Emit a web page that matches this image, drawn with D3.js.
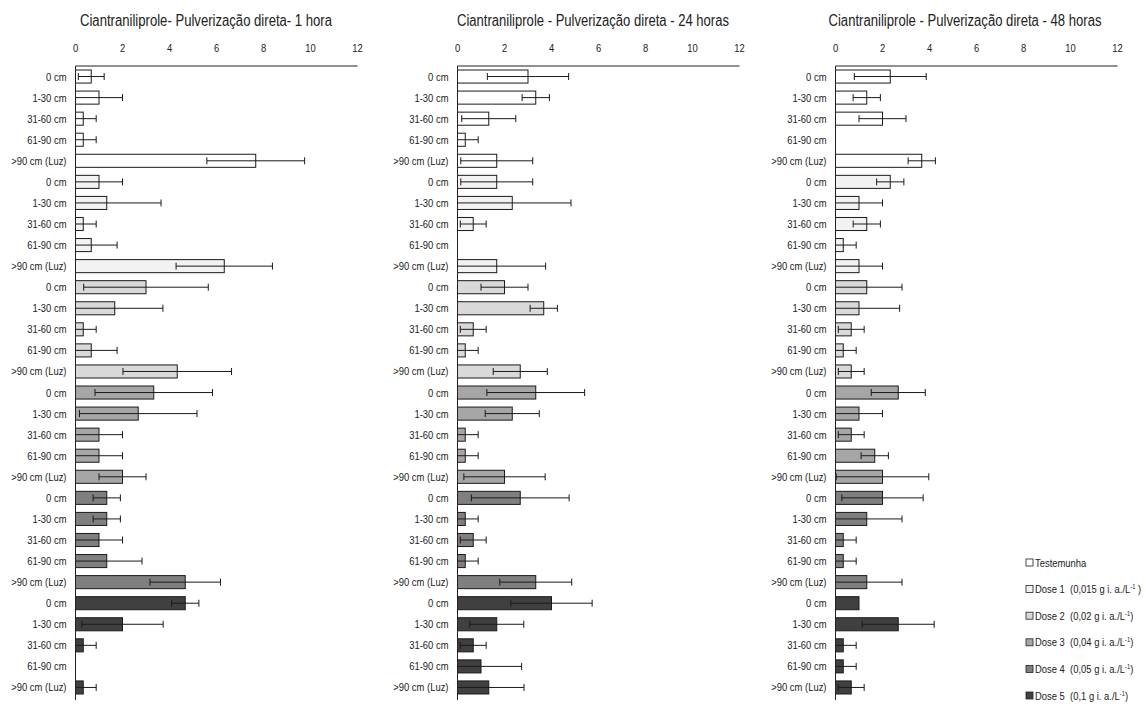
<!DOCTYPE html>
<html>
<head>
<meta charset="utf-8">
<script src="https://cdn.jsdelivr.net/npm/d3@7"></script>
<style>
  body { margin: 0; background: #fff; }
  text { font-family: "Liberation Sans", Arial, sans-serif; fill: #222; }
</style>
</head>
<body>
<div id="chart"></div>
<script>
const width = 1146;
const height = 709;
const narrow = 0.82; // squeeze Liberation Sans to look like a narrow face

// depth categories, repeated once per treatment group
const depths = ["0 cm", "1-30 cm", "31-60 cm", "61-90 cm", ">90 cm (Luz)"];
const groups = ["Testemunha", "Dose 1", "Dose 2", "Dose 3", "Dose 4", "Dose 5"];
const groupColors = ["#ffffff", "#f2f2f2", "#d9d9d9", "#a6a6a6", "#7f7f7f", "#404040"];
const legendLabels = [
    ["Testemunha", ""],
    ["Dose 1  (0,015 g i. a./L", " )"],
    ["Dose 2  (0,02 g i. a./L", ")"],
    ["Dose 3  (0,04 g i. a./L", ")"],
    ["Dose 4  (0,05 g i. a./L", ")"],
    ["Dose 5  (0,1 g i. a./L", ")"]
];
const ticks = [0, 2, 4, 6, 8, 10, 12];

const titles = [
    "Ciantraniliprole- Pulverização direta- 1 hora",
    "Ciantraniliprole - Pulverização direta - 24 horas",
    "Ciantraniliprole - Pulverização direta - 48 horas"
];

// means, 30 rows (6 groups x 5 depths) per panel
const mean1h = [
    0.67, 1.00, 0.33, 0.33, 7.67,
    1.00, 1.33, 0.33, 0.67, 6.33,
    3.00, 1.67, 0.33, 0.67, 4.33,
    3.33, 2.67, 1.00, 1.00, 2.00,
    1.33, 1.33, 1.00, 1.33, 4.67,
    4.67, 2.00, 0.33, 0.00, 0.33
];
const err1h = [
    0.55, 1.00, 0.55, 0.55, 2.08,
    1.00, 2.31, 0.55, 1.10, 2.05,
    2.65, 2.05, 0.55, 1.10, 2.31,
    2.50, 2.50, 1.00, 1.00, 1.00,
    0.58, 0.58, 1.00, 1.50, 1.50,
    0.58, 1.73, 0.55, 0.00, 0.55
];
const mean24h = [
    3.00, 3.33, 1.33, 0.33, 1.67,
    1.67, 2.33, 0.67, 0.00, 1.67,
    2.00, 3.67, 0.67, 0.33, 2.67,
    3.33, 2.33, 0.33, 0.33, 2.00,
    2.67, 0.33, 0.67, 0.33, 3.33,
    4.00, 1.67, 0.67, 1.00, 1.33
];
const err24h = [
    1.73, 0.58, 1.15, 0.55, 1.53,
    1.53, 2.50, 0.55, 0.00, 2.08,
    1.00, 0.58, 0.55, 0.55, 1.15,
    2.08, 1.15, 0.55, 0.55, 1.73,
    2.08, 0.55, 0.55, 0.55, 1.53,
    1.73, 1.15, 0.55, 1.73, 1.50
];
const mean48h = [
    2.33, 1.33, 2.00, 0.00, 3.67,
    2.33, 1.00, 1.33, 0.33, 1.00,
    1.33, 1.00, 0.67, 0.33, 0.67,
    2.67, 1.00, 0.67, 1.67, 2.00,
    2.00, 1.33, 0.33, 0.33, 1.33,
    1.00, 2.67, 0.33, 0.33, 0.67
];
const err48h = [
    1.53, 0.58, 1.00, 0.00, 0.58,
    0.58, 1.00, 0.58, 0.55, 1.00,
    1.50, 1.73, 0.55, 0.55, 0.55,
    1.15, 1.00, 0.55, 0.58, 1.97,
    1.73, 1.50, 0.55, 0.55, 1.50,
    0.00, 1.53, 0.55, 0.55, 0.55
];

const panels = [
    { title: titles[0], means: mean1h, errs: err1h, x0: 75.5, titleX: 206, titleW: 252 },
    { title: titles[1], means: mean24h, errs: err24h, x0: 457.5, titleX: 593, titleW: 272 },
    { title: titles[2], means: mean48h, errs: err48h, x0: 835.5, titleX: 965, titleW: 273 }
];

const plotWidth = 282;
const plotTop = 66;
const plotBottom = 698;

const svg = d3.select("#chart").append("svg")
    .attr("width", width)
    .attr("height", height);

// build the rows: one per group/depth pair
const rows = [];
groups.forEach((g, gi) => {
    depths.forEach((d, di) => {
        rows.push({ key: gi * depths.length + di, group: gi, depth: d });
    });
});

const y = d3.scaleBand()
    .domain(rows.map(r => r.key))
    .range([plotTop, plotBottom])
    .paddingInner(0.38)
    .paddingOuter(0.19);

function drawPanel(p) {
    const x = d3.scaleLinear().domain([0, 12]).range([p.x0, p.x0 + plotWidth]);
    const g = svg.append("g");

    g.append("text")
        .attr("x", p.titleX)
        .attr("y", 26)
        .attr("text-anchor", "middle")
        .attr("font-size", "16px")
        .attr("textLength", p.titleW)
        .attr("lengthAdjust", "spacingAndGlyphs")
        .text(p.title);

    // top axis, labels only
    g.append("line")
        .attr("x1", x(0)).attr("x2", x(12))
        .attr("y1", plotTop).attr("y2", plotTop)
        .attr("stroke", "#222").attr("stroke-width", 1);
    g.selectAll(".tick")
        .data(ticks)
        .enter().append("text")
        .attr("transform", d => `translate(${x(d)},52) scale(${narrow},1)`)
        .attr("text-anchor", "middle")
        .attr("font-size", "11.5px")
        .text(d => d);

    // bars
    const data = rows.map(r => ({ ...r, mean: p.means[r.key], err: p.errs[r.key] }));

    g.selectAll(".bar")
        .data(data.filter(d => d.mean > 0))
        .enter().append("rect")
        .attr("x", x(0))
        .attr("y", d => y(d.key))
        .attr("width", d => x(d.mean) - x(0))
        .attr("height", y.bandwidth())
        .attr("fill", d => groupColors[d.group])
        .attr("stroke", "#1a1a1a")
        .attr("stroke-width", 1);

    // error bars
    const lo = d => x(Math.max(0, d.mean - d.err));
    const hi = d => x(d.mean + d.err);
    const eb = g.selectAll(".err")
        .data(data.filter(d => d.err > 0))
        .enter().append("g")
        .attr("transform", d => `translate(0,${y(d.key) + y.bandwidth() / 2})`);
    eb.append("line")
        .attr("x1", lo).attr("x2", hi)
        .attr("stroke", "#1a1a1a").attr("stroke-width", 1);
    eb.append("line")
        .attr("x1", hi).attr("x2", hi)
        .attr("y1", -3.5).attr("y2", 3.5)
        .attr("stroke", "#1a1a1a").attr("stroke-width", 1);
    eb.append("line")
        .attr("x1", lo).attr("x2", lo)
        .attr("y1", -3.5).attr("y2", 3.5)
        .attr("stroke", "#1a1a1a").attr("stroke-width", 1);

    // vertical axis and category labels
    g.append("line")
        .attr("x1", x(0)).attr("x2", x(0))
        .attr("y1", plotTop).attr("y2", plotBottom + 2)
        .attr("stroke", "#222").attr("stroke-width", 1);
    g.selectAll(".cat")
        .data(rows)
        .enter().append("text")
        .attr("transform", d => `translate(${x(0) - 9},${y(d.key) + y.bandwidth() / 2 + 4}) scale(${narrow},1)`)
        .attr("text-anchor", "end")
        .attr("font-size", "11.5px")
        .text(d => d.depth);
}

panels.forEach(drawPanel);

// legend
const legend = svg.append("g").attr("transform", "translate(1026,563)");
const item = legend.selectAll("g")
    .data(groups)
    .enter().append("g")
    .attr("transform", (d, i) => `translate(0,${i * 26.6})`);
item.append("rect")
    .attr("x", 0).attr("y", -4)
    .attr("width", 7).attr("height", 7)
    .attr("fill", (d, i) => groupColors[i])
    .attr("stroke", "#222").attr("stroke-width", 0.8);
const lt = item.append("text")
    .attr("transform", `translate(9,3.5) scale(${narrow},1)`)
    .attr("font-size", "11.5px")
    .style("white-space", "pre");
lt.append("tspan").text((d, i) => legendLabels[i][0]);
lt.filter((d, i) => i > 0).append("tspan")
    .attr("dy", -4).attr("font-size", "7px").text("-1");
lt.filter((d, i) => i > 0).append("tspan")
    .attr("dy", 4).text((d, i) => legendLabels[i + 1][1]);
</script>
</body>
</html>
